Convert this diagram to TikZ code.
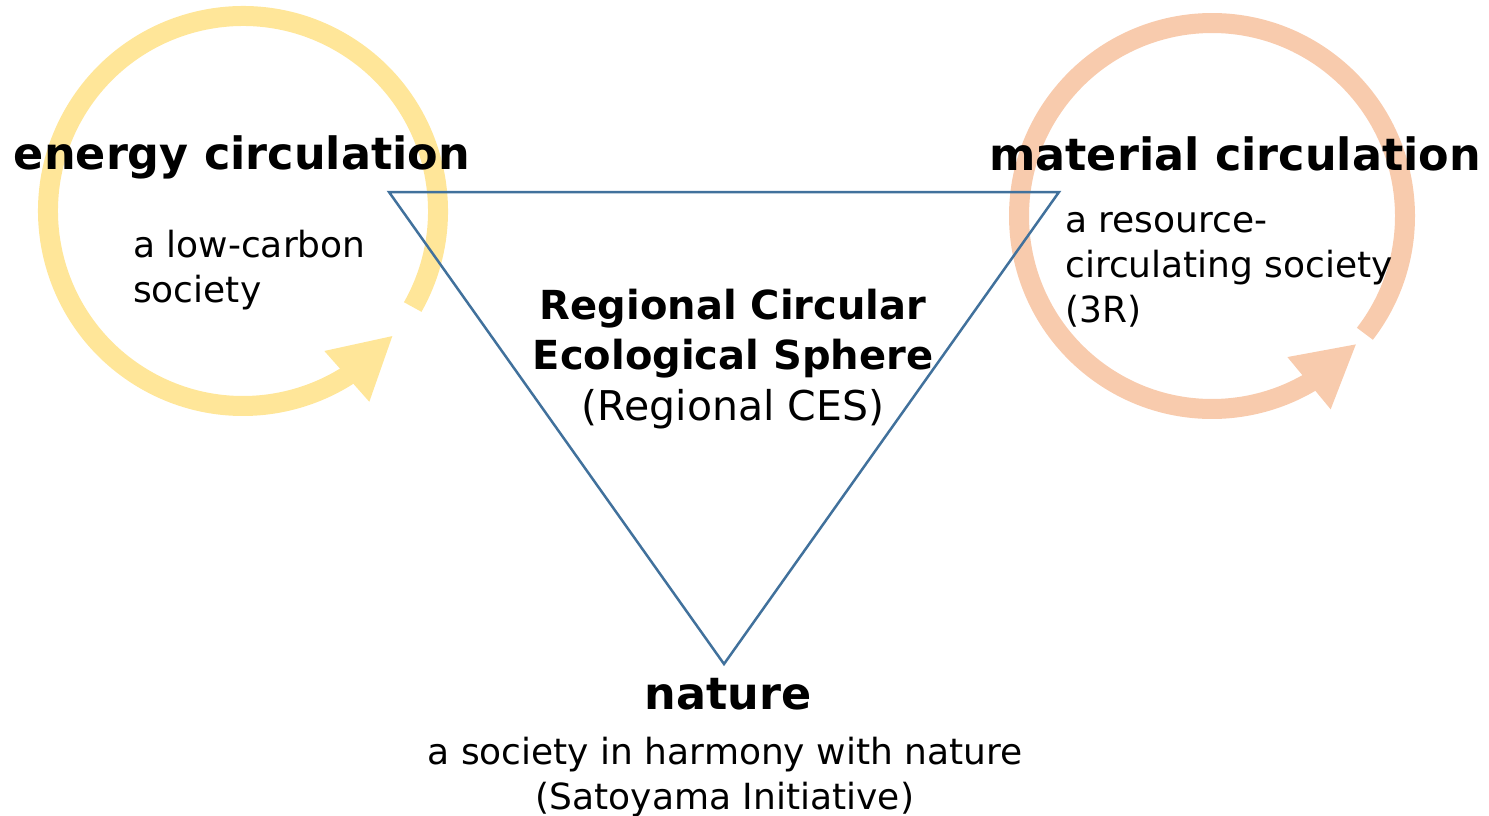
\documentclass[tikz,border=0pt]{standalone}
\usepackage{fontspec}
\setmainfont{DejaVu Sans}
\usetikzlibrary{arrows.meta,bending}
\definecolor{energycolor}{HTML}{FFE699}
\definecolor{materialcolor}{HTML}{F8CBAD}
\definecolor{spherecolor}{RGB}{65,113,156}
\tikzstyle{headline} = [
    font=\fontsize{44.5}{50}\selectfont\bfseries,
    inner sep=0pt
    ]
\tikzstyle{subtext} = [
    font=\fontsize{36}{45}\selectfont,
    inner sep=0pt,
    align=left
    ]
\tikzstyle{loopline} = [
    line width=20pt,
    -{Triangle[length=62pt,width=63pt,flex]}
    ]

\begin{document}
\begin{tikzpicture}[x=1pt,y=-1pt]
\useasboundingbox (0,0) rectangle (1489,816);
% the two circulation loops
\coordinate (energy hub) at (243,211);
\coordinate (material hub) at (1212,216);
\draw[loopline, energycolor] (energy hub) ++(29.5:195) arc[start angle=29.5, end angle=-320.4, radius=195];
\draw[loopline, materialcolor] (material hub) ++(37.6:193) arc[start angle=37.6, end angle=-318.6, radius=193];
% the sphere triangle
\coordinate (energy corner) at (389,192);
\coordinate (material corner) at (1059,192);
\coordinate (nature corner) at (724,664);
\draw[spherecolor, line width=2.5pt] (energy corner) -- (material corner) -- (nature corner) -- cycle;
% labels (base of a wrapped node is its last line)
\node[headline, anchor=base] (energy title) at (242,169) {energy circulation};
\node[subtext, anchor=base west] (energy text) at (133,302) {a low-carbon\\society};
\node[headline, anchor=base] (material title) at (1235,170) {material circulation};
\node[subtext, anchor=base west] (material text) at (1065,322) {a resource-\\circulating society\\(3R)};
\node[font=\fontsize{40}{50.5}\selectfont, inner sep=0pt, align=center, anchor=base] (sphere text) at (733,420)
    {\textbf{Regional Circular}\\\textbf{Ecological Sphere}\\{\fontsize{41}{50.5}\selectfont(Regional CES)}};
\node[headline, anchor=base] (nature title) at (728,709) {nature};
\node[subtext, align=center, anchor=base] (nature text) at (725,809)
    {a society in harmony with nature\\(Satoyama Initiative)};
\end{tikzpicture}
\end{document}
